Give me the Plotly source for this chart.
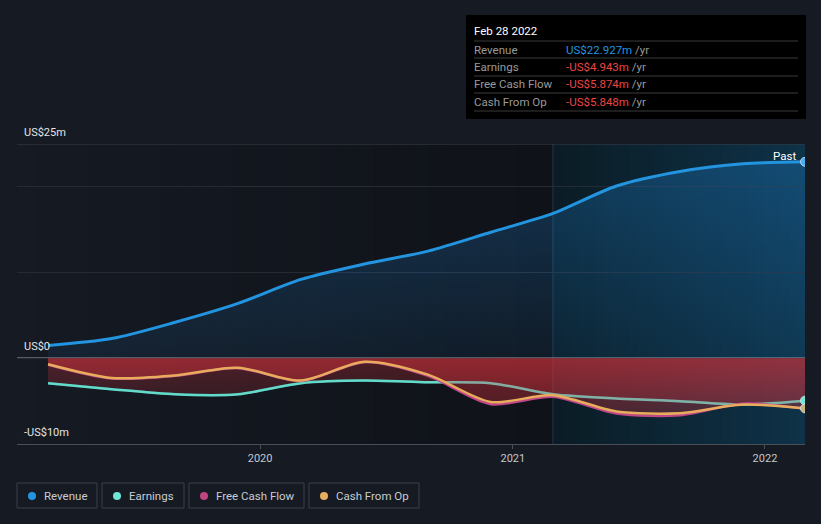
import plotly.graph_objects as go
import pandas as pd
import numpy as np

# ---------------- data (US$ millions, trailing twelve months) ----------------
dates = ["2019-02-28", "2019-05-31", "2019-08-31", "2019-11-30", "2020-02-29",
         "2020-05-31", "2020-08-31", "2020-11-30", "2021-02-28", "2021-05-31",
         "2021-08-31", "2021-11-30", "2022-02-28"]
revenue = [1.5, 2.3, 4.2, 6.4, 9.2, 11.0, 12.5, 14.7, 16.9, 20.1, 21.8, 22.7, 22.927]
earnings = [-2.9, -3.6, -4.2, -4.2, -2.9, -2.6, -2.8, -2.9, -4.2, -4.7, -5.0, -5.4, -4.943]
free_cash_flow = [-0.75, -2.35, -2.05, -1.15, -2.65, -0.45, -2.05, -5.35, -4.5, -6.45, -6.65, -5.3, -5.874]
cash_from_op = [-0.7, -2.3, -2.0, -1.1, -2.6, -0.4, -1.9, -5.1, -4.3, -6.2, -6.4, -5.4, -5.848]

x_ticks = ["2020-01-01", "2021-01-01", "2022-01-01"]
x_tick_labels = ["2020", "2021", "2022"]
y_labels = [(25, "US$25m"), (0, "US$0"), (-10, "-US$10m")]

tooltip_title = "Feb 28 2022"
tooltip_rows = [("Revenue", "US$22.927m", "#2394df"),
                ("Earnings", "-US$4.943m", "#ef4444"),
                ("Free Cash Flow", "-US$5.874m", "#ef4444"),
                ("Cash From Op", "-US$5.848m", "#ef4444")]
legend_items = [("Revenue", "#2394df"), ("Earnings", "#6ee6d4"),
                ("Free Cash Flow", "#c0457f"), ("Cash From Op", "#e8ae5f")]

# ---------------- styling ----------------
BG = "#151a23"
C_REV = "#2394df"
C_EARN = "#62dccb"
C_FCF = "#c0468a"
C_CFO = "#e8ad5c"
FONT = "Roboto"

X_START, X_END = "2019-01-14", "2022-02-28"
PAST_START = "2021-02-28"

W, H = 821, 524
PL, PR, PT, PB = 17, 805, 144, 444


def px(x):
    return (x - PL) / (PR - PL)


def py(y):
    return (PB - y) / (PB - PT)


SPL = dict(shape="spline", smoothing=0.8)
fig = go.Figure()

# revenue area + line
fig.add_trace(go.Scatter(
    x=dates, y=revenue, mode="lines", line=dict(color=C_REV, width=3, **SPL),
    fill="tozeroy",
    fillgradient=dict(type="vertical", start=0, stop=23,
                      colorscale=[[0, "rgba(33,150,243,0.07)"], [1, "rgba(33,150,243,0.26)"]]),
    hoverinfo="skip"))

# earnings area + line
fig.add_trace(go.Scatter(
    x=dates, y=earnings, mode="lines", line=dict(color=C_EARN, width=2.5, **SPL),
    fill="tozeroy",
    fillgradient=dict(type="vertical", start=-6, stop=0,
                      colorscale=[[0, "rgba(215,50,60,0.14)"], [1, "rgba(215,50,60,0.30)"]]),
    hoverinfo="skip"))

# cash from op area (drawn over earnings line)
fig.add_trace(go.Scatter(
    x=dates, y=cash_from_op, mode="lines", line=dict(color="rgba(0,0,0,0)", width=0, **SPL),
    fill="tozeroy",
    fillgradient=dict(type="vertical", start=-6.5, stop=0,
                      colorscale=[[0, "rgba(215,50,60,0.30)"], [1, "rgba(215,50,60,0.50)"]]),
    hoverinfo="skip"))

# faint earnings line re-tint above the cash fill
fig.add_trace(go.Scatter(
    x=dates, y=earnings, mode="lines", line=dict(color="rgba(98,220,203,0.3)", width=2.5, **SPL),
    hoverinfo="skip"))

# FCF and CFO lines
fig.add_trace(go.Scatter(
    x=dates, y=free_cash_flow, mode="lines",
    line=dict(color=C_FCF, width=2.5, **SPL), hoverinfo="skip"))
fig.add_trace(go.Scatter(
    x=dates, y=cash_from_op, mode="lines",
    line=dict(color=C_CFO, width=2.5, **SPL), hoverinfo="skip"))

# end markers
for series, col in [(revenue, "#4aaef0"), (earnings, "#6ee6d4"), (cash_from_op, "#c9b184")]:
    fig.add_trace(go.Scatter(
        x=[dates[-1]], y=[series[-1]], mode="markers",
        marker=dict(size=9, color=col, line=dict(color="rgba(230,240,250,0.7)", width=1)),
        hoverinfo="skip"))

shapes = []

# left background gradient (page colour darkening towards the "past" line)
n = 30
edges = pd.date_range(X_START, PAST_START, periods=n + 1)
c0, c1 = np.array([21, 26, 35]), np.array([15, 18, 24])
for i in range(n):
    c = (c0 + (c1 - c0) * (i + 0.5) / n).round().astype(int)
    shapes.append(dict(type="rect", xref="x", yref="paper", x0=edges[i], x1=edges[i + 1] + pd.Timedelta(days=1),
                       y0=0, y1=1, fillcolor=f"rgb({c[0]},{c[1]},{c[2]})", line=dict(width=0), layer="below"))

# right highlight gradient
edges = pd.date_range(PAST_START, X_END, periods=n + 1)
c0, c1 = np.array([11, 28, 37]), np.array([14, 50, 72])
for i in range(n):
    c = (c0 + (c1 - c0) * (i + 0.5) / n).round().astype(int)
    shapes.append(dict(type="rect", xref="x", yref="paper", x0=edges[i], x1=edges[i + 1] + pd.Timedelta(days=1),
                       y0=0, y1=1, fillcolor=f"rgb({c[0]},{c[1]},{c[2]})", line=dict(width=0), layer="below"))

# past divider
shapes.append(dict(type="line", xref="x", yref="paper", x0=PAST_START, x1=PAST_START, y0=0, y1=1,
                   line=dict(color="rgba(45,80,100,0.6)", width=1), layer="between"))
# top gridline and zero line
shapes.append(dict(type="line", xref="paper", yref="y", x0=0, x1=1, y0=25, y1=25,
                   line=dict(color="#3a3f48", width=1), layer="between"))
shapes.append(dict(type="line", xref="paper", yref="y", x0=0, x1=1, y0=0, y1=0,
                   line=dict(color="rgba(200,200,200,0.75)", width=1.5), layer="between"))

annotations = []
for val, txt in y_labels:
    annotations.append(dict(xref="paper", yref="y", x=px(22), y=val, yshift=12, text=txt,
                            showarrow=False, xanchor="left", yanchor="middle",
                            font=dict(family=FONT, size=11, color="#e2e4e8")))

annotations.append(dict(xref="x", yref="y", x=dates[-1], y=revenue[-1], xshift=-7, yshift=6, text="Past",
                        showarrow=False, xanchor="right", yanchor="middle",
                        font=dict(family=FONT, size=11.5, color="#ffffff")))

# tooltip box
shapes.append(dict(type="rect", xref="paper", yref="paper", x0=px(466), x1=px(806), y0=py(119), y1=py(15),
                   fillcolor="#000000", line=dict(width=0), layer="above"))
for yy in [41, 58, 76, 93, 111]:
    shapes.append(dict(type="line", xref="paper", yref="paper", x0=px(474), x1=px(798), y0=py(yy), y1=py(yy),
                       line=dict(color="#3a3a3a", width=1), layer="above"))
annotations.append(dict(xref="paper", yref="paper", x=px(472), y=py(31), text=tooltip_title, showarrow=False,
                        xanchor="left", yanchor="middle", font=dict(family=FONT, size=11.5, color="#ffffff")))
for (lab, val, col), yy in zip(tooltip_rows, [49.5, 66.5, 84, 101.5]):
    annotations.append(dict(xref="paper", yref="paper", x=px(472), y=py(yy), text=lab, showarrow=False,
                            xanchor="left", yanchor="middle", font=dict(family=FONT, size=11.5, color="#9a9a9a")))
    annotations.append(dict(xref="paper", yref="paper", x=px(564), y=py(yy),
                            text=f"<span style='color:{col}'>{val}</span> <span style='color:#9a9a9a'>/yr</span>",
                            showarrow=False, xanchor="left", yanchor="middle",
                            font=dict(family=FONT, size=11.5, color="#9a9a9a")))

# custom legend
boxes = [(17, 97), (102, 184), (189, 304), (309, 419)]
for (lab, col), (bx0, bx1) in zip(legend_items, boxes):
    shapes.append(dict(type="rect", xref="paper", yref="paper", x0=px(bx0), x1=px(bx1), y0=py(508), y1=py(483),
                       line=dict(color="#3a3f48", width=1), fillcolor="rgba(0,0,0,0)", layer="above"))
    cx, cy = bx0 + 15, 496
    shapes.append(dict(type="circle", xref="paper", yref="paper", x0=px(cx - 4), x1=px(cx + 4),
                       y0=py(cy + 4), y1=py(cy - 4), fillcolor=col, line=dict(width=0), layer="above"))
    annotations.append(dict(xref="paper", yref="paper", x=px(bx0 + 25), y=py(496), text=lab, showarrow=False,
                            xanchor="left", yanchor="middle", font=dict(family=FONT, size=11.5, color="#c8ccd2")))

fig.update_layout(
    width=W, height=H,
    margin=dict(l=PL, r=W - PR, t=PT, b=H - PB, pad=0),
    paper_bgcolor=BG, plot_bgcolor=BG,
    showlegend=False, hovermode=False,
    font=dict(family=FONT),
    shapes=shapes, annotations=annotations,
    xaxis=dict(type="date", range=[X_START, X_END], tickvals=x_ticks, ticktext=x_tick_labels,
               showgrid=False, zeroline=False, showline=True, linecolor="#4a4f57", linewidth=1,
               ticks="outside", ticklen=4, tickcolor="#4a4f57",
               tickfont=dict(family=FONT, size=11, color="#c4c8cc"), fixedrange=True),
    yaxis=dict(range=[-10, 25], tickvals=[-10, 0, 10, 20], showticklabels=False,
               showgrid=True, gridcolor="#252a33", gridwidth=1, zeroline=False, showline=False,
               fixedrange=True),
)

fig.write_html("out.html", config={"displayModeBar": False},
               post_script="document.body.style.margin='0px';document.body.style.background='#151a23';")
